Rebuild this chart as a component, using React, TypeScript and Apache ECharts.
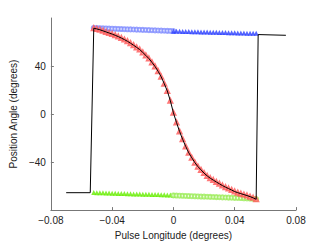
import React, { useEffect, useRef } from "react";
import * as echarts from "echarts";

// Pulse longitude sample positions (degrees)
const leftLon = [-0.052, -0.05, -0.048, -0.046, -0.044, -0.042, -0.04, -0.038, -0.036, -0.034, -0.032, -0.03, -0.028, -0.026, -0.024, -0.022, -0.02, -0.018, -0.016, -0.014, -0.012, -0.01, -0.008, -0.006, -0.004, -0.002, 0.0];
const rightLon = [0.0, 0.002, 0.004, 0.006, 0.008, 0.01, 0.012, 0.014, 0.016, 0.018, 0.02, 0.022, 0.024, 0.026, 0.028, 0.03, 0.032, 0.034, 0.036, 0.038, 0.04, 0.042, 0.044, 0.046, 0.048, 0.05, 0.052, 0.054];

// Position angles (degrees)
const blueOpenPA = [71.7, 71.6, 71.5, 71.4, 71.3, 71.2, 71.1, 71.0, 70.9, 70.8, 70.7, 70.6, 70.5, 70.4, 70.3, 70.2, 70.1, 70.0, 69.9, 69.8, 69.7, 69.6, 69.5, 69.4, 69.3, 69.2, 69.1];
const blueFilledPA = [69.0, 68.9, 68.9, 68.8, 68.7, 68.7, 68.6, 68.5, 68.5, 68.4, 68.3, 68.3, 68.2, 68.1, 68.1, 68.0, 67.9, 67.9, 67.8, 67.7, 67.7, 67.6, 67.5, 67.5, 67.4, 67.3, 67.3, 67.2];
const greenTriPA = [-65.4, -65.5, -65.6, -65.6, -65.7, -65.8, -65.9, -66.0, -66.1, -66.1, -66.2, -66.3, -66.4, -66.5, -66.6, -66.6, -66.7, -66.8, -66.9, -67.0, -67.1, -67.1, -67.2, -67.3, -67.4, -67.5, -67.6];
const greenOpenPA = [-67.8, -67.9, -68.0, -68.1, -68.2, -68.3, -68.4, -68.5, -68.6, -68.7, -68.8, -68.9, -69.0, -69.1, -69.2, -69.3, -69.4, -69.5, -69.6, -69.7, -69.8, -69.9, -70.0, -70.2, -70.3, -70.4, -70.6, -70.8];

// Red swing of position angle across the pulse
const swingLon = [-0.052, -0.05, -0.048, -0.046, -0.044, -0.042, -0.04, -0.038, -0.036, -0.034, -0.032, -0.03, -0.028, -0.026, -0.024, -0.022, -0.02, -0.018, -0.016, -0.014, -0.012, -0.01, -0.008, -0.006, -0.004, -0.002, 0.0, 0.002, 0.004, 0.006, 0.008, 0.01, 0.012, 0.014, 0.016, 0.018, 0.02, 0.022, 0.024, 0.026, 0.028, 0.03, 0.032, 0.034, 0.036, 0.038, 0.04, 0.042, 0.044, 0.046, 0.048, 0.05, 0.052, 0.054];
const swingPA = [71.5, 70.9, 70.2, 69.3, 68.4, 67.5, 66.6, 65.6, 64.5, 63.3, 62.0, 60.6, 59.0, 57.3, 55.5, 53.7, 51.3, 48.8, 46.2, 43.0, 39.6, 35.6, 31.0, 25.3, 19.2, 11.0, 1.0, -7.0, -14.5, -21.0, -27.0, -32.3, -36.5, -40.5, -43.8, -46.5, -49.2, -51.5, -53.4, -55.0, -56.6, -58.1, -59.6, -60.9, -62.1, -63.3, -64.6, -65.5, -66.3, -67.1, -67.9, -68.8, -69.8, -71.0];

// Black model track endpoints (jumps at the edges)
const modelLeftLon = [-0.07, -0.0543];
const modelLeftPA = [-65.5, -65.5];
const modelRightLon = [0.0553, 0.0734];
const modelRightPA = [66.2, 65.6];

const zip = (xs: number[], ys: number[]) => xs.map((x, i) => [x, ys[i]]);

const FONT = "Liberation Sans";

export default function App() {
  const ref = useRef<HTMLDivElement>(null);
  useEffect(() => {
    if (!ref.current) return;
    const chart = echarts.init(ref.current, null, { renderer: "svg" });
    const modelLine = [
      ...zip(modelLeftLon, modelLeftPA),
      ...zip(swingLon, swingPA),
      ...zip(modelRightLon, modelRightPA),
    ];
    chart.setOption({
      animation: false,
      backgroundColor: "#ffffff",
      grid: { left: 42, right: 31, top: 18, bottom: 28, containLabel: false },
      xAxis: {
        type: "value",
        min: -0.08,
        max: 0.08,
        interval: 0.04,
        name: "Pulse Longitude (degrees)",
        nameLocation: "middle",
        nameGap: 17,
        nameTextStyle: { fontFamily: FONT, fontSize: 10, color: "#222" },
        axisLine: { onZero: false, lineStyle: { color: "#777", width: 1 } },
        axisTick: { inside: true, length: 3, lineStyle: { color: "#777" } },
        axisLabel: {
          fontFamily: FONT,
          fontSize: 10,
          color: "#222",
          margin: 5,
          formatter: (v: number) =>
            Math.abs(v) < 1e-9 ? "0" : v.toFixed(2).replace("-", "\u2212"),
        },
        splitLine: { show: false },
      },
      yAxis: {
        type: "value",
        min: -80,
        max: 80,
        interval: 40,
        name: "Position Angle (degrees)",
        nameLocation: "middle",
        nameGap: 25,
        nameTextStyle: { fontFamily: FONT, fontSize: 10, color: "#222" },
        axisLine: { show: true, onZero: false, lineStyle: { color: "#777", width: 1 } },
        axisTick: { inside: true, length: 3, lineStyle: { color: "#777" } },
        axisLabel: {
          fontFamily: FONT,
          fontSize: 10,
          color: "#222",
          margin: 5,
          showMinLabel: false,
          showMaxLabel: false,
          formatter: (v: number) => String(v).replace("-", "\u2212"),
        },
        splitLine: { show: false },
      },
      series: [
        {
          type: "scatter",
          data: zip(leftLon, blueOpenPA),
          symbol: "emptyCircle",
          symbolSize: 4,
          itemStyle: { color: "#7f8cff", borderWidth: 0.8 },
        },
        {
          type: "scatter",
          data: zip(rightLon, blueFilledPA),
          symbol: "triangle",
          symbolSize: 5,
          itemStyle: { color: "#2b3eff" },
        },
        {
          type: "scatter",
          data: zip(leftLon, greenTriPA),
          symbol: "triangle",
          symbolSize: 5,
          itemStyle: { color: "#66ee00" },
        },
        {
          type: "scatter",
          data: zip(rightLon, greenOpenPA),
          symbol: "emptyCircle",
          symbolSize: 4,
          itemStyle: { color: "#9cec5a", borderWidth: 0.8 },
        },
        {
          type: "scatter",
          data: zip(swingLon, swingPA),
          symbol: "emptyTriangle",
          symbolSize: 4,
          itemStyle: { color: "#ff5555", borderWidth: 0.8 },
        },
        {
          type: "line",
          data: modelLine,
          symbol: "none",
          lineStyle: { color: "#000", width: 1 },
          z: 5,
        },
      ],
    });
    return () => chart.dispose();
  }, []);
  return (
    <div
      ref={ref}
      style={{ position: "fixed", left: 0, top: 0, width: 327, height: 245 }}
    />
  );
}
